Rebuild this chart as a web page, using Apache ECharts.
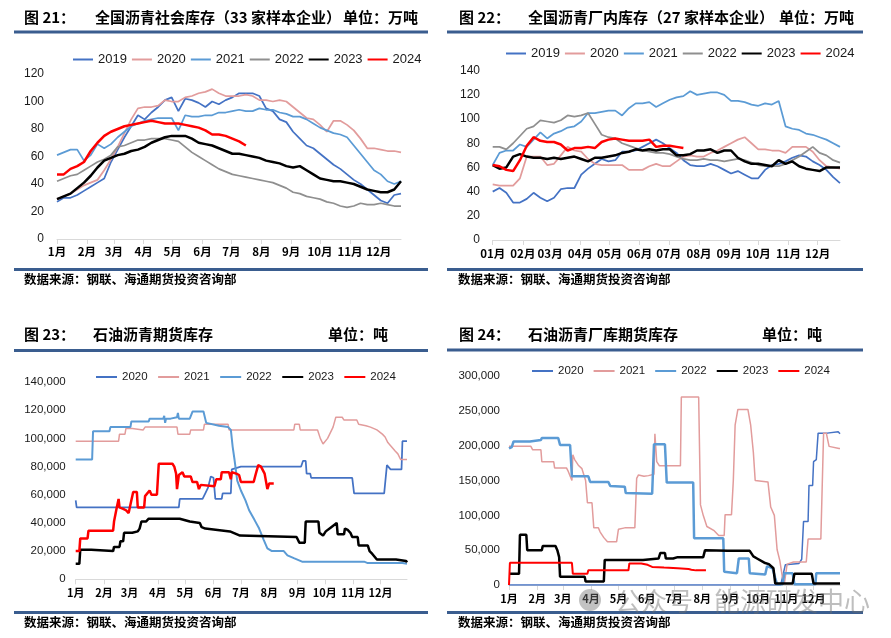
<!DOCTYPE html>
<html><head><meta charset="utf-8">
<script src="https://cdn.jsdelivr.net/npm/echarts@6/dist/echarts.min.js"></script>
<style>
html,body{margin:0;padding:0;background:#fff;width:891px;height:638px;overflow:hidden;}
.c{position:absolute;left:0;top:0;width:891px;height:638px;}
</style></head><body>
<div id="c1" class="c"></div><div id="c2" class="c"></div><div id="c3" class="c"></div><div id="c4" class="c"></div>
<script>
// ---------- shared axis data ----------
const monthStarts = [0,31,59,90,120,151,181,212,243,273,304,334];
const monthLabelsA = ['1月','2月','3月','4月','5月','6月','7月','8月','9月','10月','11月','12月'];
const monthLabelsB = ['01月','02月','03月','04月','05月','06月','07月','08月','09月','10月','11月','12月'];

// ---------- 图21 全国沥青社会库存 (万吨, weekly) ----------
const c21Years = ['2019','2020','2021','2022','2023','2024'];
const c21_2019 = [27,30,30,32,35,38,41,44,56,65,74,82,90,87,92,96,101,103,93,102,101,99,96,100,98,101,103,106,106,106,104,95,93,87,85,78,73,68,66,62,58,54,51,47,43,40,36,32,28,26,32,33];
const c21_2020 = [29,31,33,36,39,41,43,50,58,67,77,87,95,96,96,97,101,100,100,103,104,106,107,109,106,104,104,104,105,104,101,101,100,101,100,96,92,88,87,83,78,86,86,83,79,73,66,66,65,64,64,63];
const c21_2021 = [61,63,65,65,57,61,69,66,69,74,78,82,84,86,87,88,88,88,79,90,89,89,90,90,92,92,93,94,93,93,95,94,94,92,91,89,89,87,84,81,79,77,76,74,68,62,56,50,47,42,40,42];
const c21_2022 = [42,44,46,47,50,53,56,58,61,67,68,70,72,72,73,73,73,72,71,67,63,60,57,54,51,49,47,46,45,44,43,42,41,39,37,34,33,31,30,29,27,26,24,23,24,26,25,25,26,25,24,24];
const c21_2023 = [29,31,33,37,41,46,52,57,59,61,62,64,65,67,70,72,74,75,75,75,73,70,69,68,66,64,62,62,61,60,59,57,56,55,53,52,53,50,47,44,43,42,42,41,40,38,36,35,34,34,36,42];
const c21_2024 = [47,47,51,53,56,64,70,75,78,80,82,83,84,85,86,85,84,84,84,83,82,81,79,76,76,75,73,71,68];

// ---------- 图22 全国沥青厂内库存 (万吨, weekly) ----------
const c22Years = ['2019','2020','2021','2022','2023','2024'];
const c22_2019 = [40,43,39,31,31,34,39,35,32,35,42,43,43,54,59,63,67,65,66,73,73,74,77,80,83,80,76,72,66,62,61,61,63,61,58,55,57,54,51,51,58,62,63,65,68,70,69,65,62,58,52,47];
const c22_2020 = [46,45,45,45,51,69,69,69,62,63,70,77,74,73,67,63,62,62,62,62,58,58,58,61,63,61,61,65,69,70,69,69,72,74,77,80,83,85,80,75,75,74,74,72,77,77,77,73,66,61,60,59];
const c22_2021 = [62,72,74,74,79,77,83,89,84,88,90,93,94,98,105,105,106,107,107,103,109,113,113,114,110,113,116,118,119,123,120,121,122,122,120,115,115,114,112,111,113,112,115,94,92,91,88,87,85,83,80,77];
const c22_2022 = [77,77,75,80,86,92,94,99,98,97,99,103,102,103,105,96,87,85,84,80,78,76,74,73,72,72,71,69,67,66,66,67,66,66,65,66,67,66,64,62,61,61,61,63,66,69,73,77,72,70,66,64];
const c22_2023 = [62,59,60,69,71,69,68,68,67,68,67,68,69,67,65,68,68,69,70,72,73,75,74,75,74,75,75,70,70,71,74,74,75,72,74,74,68,65,63,63,62,61,66,63,65,61,59,58,57,60,60,60];
const c22_2024 = [62,61,58,57,66,78,85,82,81,81,79,74,76,76,77,76,81,83,84,83,82,82,82,83,77,78,78,77,76];

// ---------- 图23 石油沥青期货库存 ([day of year, 千吨]) ----------
const c23Years = ['2020','2021','2022','2023','2024'];
const c23_2020 = [[0,56],[1,51],[113,51],[114,57],[139,57],[142,61],[145,65],[148,73],[151,72],[153,57],[160,57],[161,61],[170,61],[171,78],[181,80],[247,80],[249,84],[252,84],[253,75],[257,75],[258,72],[303,72],[305,61],[338,61],[341,81],[345,78],[357,78],[358,98],[363,98]];
const c23_2021 = [[0,98],[47,98],[48,103],[54,103],[55,107],[62,107],[63,106],[74,106],[76,108],[111,108],[112,103],[125,103],[126,106],[140,106],[141,110],[167,110],[168,106],[239,106],[240,110],[245,110],[246,106],[265,106],[268,100],[271,96],[276,100],[282,108],[285,115],[292,115],[294,113],[308,113],[310,110],[318,109],[323,108],[330,106],[336,103],[339,101],[342,97],[346,94],[350,91],[353,89],[356,85],[363,85]];
const c23_2022 = [[0,85],[18,85],[19,105],[37,105],[38,108],[60,108],[61,112],[80,112],[81,114],[96,114],[97,116],[98,111],[99,114],[104,114],[106,115],[111,115],[112,118],[113,114],[125,114],[128,119],[140,119],[143,111],[157,109],[167,108],[170,106],[172,94],[174,85],[177,70],[181,63],[186,56],[190,49],[196,42],[201,36],[206,28],[210,22],[215,20],[228,20],[232,17],[239,15],[248,12.5],[316,12.5],[320,11.5],[358,11.5],[363,11]];
const c23_2023 = [[0,11],[4,11],[5,21],[17,21],[19,20],[41,20],[42,23],[48,23],[49,27],[52,27],[53,33],[62,33],[64,34],[68,34],[69,33],[70,36],[72,41],[77,41],[80,43],[114,43],[116,42],[125,41],[127,40],[136,40],[138,37],[142,36],[144,35],[169,34],[171,33],[180,31],[182,30],[242,30],[245,26],[251,26],[252,41],[266,41],[267,33],[271,31],[274,34],[280,37],[286,40],[287,32],[294,32],[295,36],[298,35],[301,33],[303,30],[309,30],[310,24],[320,24],[322,20],[325,18],[330,14],[351,14],[353,13],[362,13],[363,12]];
const c23_2024 = [[0,20],[4,20],[5,29],[13,29],[14,34.5],[41,34.5],[42,41],[44,41],[45,51],[47,57],[48,51],[52,50],[55,49],[58,47],[60,53],[63,62],[67,62],[68,51],[75,51],[76,59],[78,60],[81,63],[83,60],[89,60],[91,82],[106,82],[108,80],[110,75],[111,64],[113,74],[117,76],[119,73],[126,73],[128,69],[133,69],[135,64],[137,67],[139,66],[152,66],[154,71],[159,71],[160,76],[168,76],[170,71],[171,76],[176,75],[179,74],[181,69],[195,69],[197,74],[200,81],[203,80],[207,75],[209,74],[210,64],[212,68],[217,68]];

// ---------- 图24 石油沥青厂库期货库存 ([day of year, 千吨]) ----------
const c24Years = ['2020','2021','2022','2023','2024'];
const c24_2020 = [[0,0],[298,0],[303,29],[318,31],[321,37],[323,91],[328,91],[329,143],[333,143],[334,177],[337,180],[339,218],[349,218],[351,220],[361,220],[363,217]];
const c24_2021 = [[0,199],[24,199],[26,194],[35,194],[36,177],[49,177],[50,168],[63,168],[65,163],[69,150],[70,187],[72,180],[76,172],[80,167],[84,150],[86,118],[91,118],[93,82],[98,82],[100,76],[104,68],[108,62],[118,62],[120,80],[127,82],[138,82],[140,153],[142,158],[148,156],[153,157],[159,159],[160,217],[162,177],[165,171],[188,171],[189,270],[208,270],[210,115],[213,100],[217,84],[225,78],[230,71],[236,71],[237,101],[244,101],[246,150],[248,230],[251,252],[262,252],[265,230],[268,190],[270,150],[284,148],[287,112],[291,100],[294,51],[297,35],[300,10],[302,2],[305,30],[312,33],[326,33],[328,66],[342,66],[345,218],[348,218],[351,199],[362,196],[363,196]];
const c24_2022 = [[0,196],[3,198],[5,206],[23,206],[25,208],[35,208],[36,211],[54,211],[56,201],[67,201],[69,156],[87,156],[89,148],[109,148],[111,142],[127,141],[128,132],[157,131],[159,202],[171,202],[173,147],[202,147],[203,67],[235,67],[236,19],[237,17],[250,17],[252,38],[263,38],[264,17],[281,15],[283,27],[289,24],[292,10],[294,1],[300,1],[302,17],[311,17],[313,1],[336,1],[337,17],[363,17]];
const c24_2023 = [[0,16],[11,16],[12,72],[19,72],[20,50],[36,50],[37,56],[51,56],[53,50],[55,40],[56,12],[83,12],[84,5],[104,5],[105,36],[147,36],[149,38],[164,38],[166,46],[171,46],[172,38],[180,38],[185,40],[213,40],[215,50],[240,49],[264,49],[268,41],[272,38],[280,32],[285,30],[290,24],[292,2],[311,2],[313,16],[332,16],[334,2],[363,2]];
const c24_2024 = [[0,0],[1,32],[69,32],[70,16],[86,16],[87,21],[131,21],[132,31],[145,31],[152,29],[157,26],[170,25],[185,24],[197,23],[200,22],[205,21],[216,21]];

// ---------- styling ----------
const CJK = '"Noto Sans CJK SC", sans-serif';
const NUM = '"Liberation Sans", Arial, sans-serif';
const BAR = '#3a5d8f';
const COL = {dblue:'#4472C4', pink:'#E29C9C', lblue:'#5B9BD5', gray:'#8F8F8F', black:'#000000', red:'#FF0000'};

function weekly(arr){ return arr.map((v,i)=>[i*7, v]); }

function frame(p){
  const g = [
    {type:'rect', shape:{x:p.barX, y:p.topY, width:p.barW, height:3}, style:{fill:BAR}, silent:true},
    {type:'rect', shape:{x:p.barX, y:p.botY, width:p.barW, height:3}, style:{fill:BAR}, silent:true},
  ];
  p.titles.forEach(t=>g.push({type:'text', x:t[1], y:p.titleY, style:{text:t[0], font:'bold 15px '+CJK, fill:'#000', align:'left', verticalAlign:'middle'}}));
  g.push({type:'text', x:p.srcX, y:p.srcY, style:{text:'数据来源：钢联、海通期货投资咨询部', font:'bold 12.5px '+CJK, fill:'#000', align:'left', verticalAlign:'middle'}});
  return g;
}

function makeChart(id, p){
  const chart = echarts.init(document.getElementById(id), null, {width:891, height:638});
  const graphic = frame(p).concat(p.extra || []);
  chart.setOption({
    animation:false,
    backgroundColor: p.bg || 'transparent',
    graphic: graphic,
    legend:{left:p.legend.left, top:p.legend.top, padding:0, itemWidth:p.legend.w, itemHeight:14, itemGap:p.legend.gap,
      itemStyle:{opacity:0},
      textStyle:{fontFamily:NUM, fontSize:p.legend.fs, color:'#1a1a1a'}, data:p.names},
    grid:{left:p.grid[0], top:p.grid[1], width:p.grid[2], height:p.grid[3], containLabel:false},
    xAxis:{type:'value', min:0, max:p.xmax,
      axisLine:{show:true, lineStyle:{color:'#d9d9d9', width:1}},
      axisTick:{show:true, customValues:monthStarts, length:5, lineStyle:{color:'#d9d9d9'}},
      axisLabel:{customValues:monthStarts, margin:p.xMargin, fontFamily:CJK, fontWeight:'bold', fontSize:p.xfs, color:'#000',
        formatter:(v)=>{const i=monthStarts.indexOf(v); return i>=0 ? p.months[i] : '';}},
      splitLine:{show:false}},
    yAxis:{type:'value', min:0, max:p.ymax, interval:p.yint,
      axisLine:{show:false}, axisTick:{show:false}, splitLine:{show:false},
      axisLabel:{margin:p.yMargin, fontFamily:NUM, fontSize:p.yfs, color:'#1a1a1a', formatter:p.yfmt}},
    series:p.series.map(s=>({type:'line', name:s.name, data:s.data, symbol:'none', smooth:false,
      lineStyle:{color:s.color, width:s.width}, itemStyle:{color:s.color}, emphasis:{disabled:true}}))
  });
}

// 图21
makeChart('c1', {
  bg:'#ffffff',
  barX:14, barW:414, topY:30.5, botY:268,
  titleY:17, titles:[['图 21：',24],['全国沥青社会库存（33 家样本企业）',95],['单位：万吨',343]],
  srcX:24, srcY:279.5,
  legend:{left:72, top:53, w:20, gap:4, fs:13},
  names:c21Years,
  grid:[57,74,344,165], xmax:357, xMargin:7, xfs:11.5, months:monthLabelsA,
  ymax:120, yint:20, yMargin:13, yfs:12, yfmt:(v)=>String(v),
  series:[
    {name:'2019', data:weekly(c21_2019), color:COL.dblue, width:1.75},
    {name:'2020', data:weekly(c21_2020), color:COL.pink, width:1.75},
    {name:'2021', data:weekly(c21_2021), color:COL.lblue, width:1.75},
    {name:'2022', data:weekly(c21_2022), color:COL.gray, width:1.75},
    {name:'2023', data:weekly(c21_2023), color:COL.black, width:2.5},
    {name:'2024', data:weekly(c21_2024), color:COL.red, width:2.5}
  ]
});

// 图22
makeChart('c2', {
  barX:447, barW:416, topY:30.5, botY:268,
  titleY:17, titles:[['图 22：',459],['全国沥青厂内库存（27 家样本企业）',528],['单位：万吨',779]],
  srcX:458, srcY:279,
  legend:{left:505, top:47, w:20, gap:4, fs:13},
  names:c22Years,
  grid:[492.7,70.7,347.3,169.3], xmax:357, xMargin:8, xfs:11.5, months:monthLabelsB,
  ymax:140, yint:20, yMargin:12.7, yfs:12, yfmt:(v)=>String(v),
  series:[
    {name:'2019', data:weekly(c22_2019), color:COL.dblue, width:1.75},
    {name:'2020', data:weekly(c22_2020), color:COL.pink, width:1.75},
    {name:'2021', data:weekly(c22_2021), color:COL.lblue, width:1.75},
    {name:'2022', data:weekly(c22_2022), color:COL.gray, width:1.75},
    {name:'2023', data:weekly(c22_2023), color:COL.black, width:2.5},
    {name:'2024', data:weekly(c22_2024), color:COL.red, width:2.5}
  ]
});

const thousands = (v)=> (v*1000).toLocaleString('en-US');

// 图23
makeChart('c3', {
  barX:14, barW:414, topY:349, botY:611,
  titleY:334, titles:[['图 23：',24],['石油沥青期货库存',93],['单位：吨',328]],
  srcX:24, srcY:622.7,
  legend:{left:95, top:371, w:21, gap:9.5, fs:11.5},
  names:c23Years,
  grid:[75.7,382,331.3,197.3], xmax:363, xMargin:8, xfs:11, months:monthLabelsA,
  ymax:140, yint:20, yMargin:10, yfs:11.5, yfmt:thousands,
  series:[
    {name:'2020', data:c23_2020, color:COL.dblue, width:1.75},
    {name:'2021', data:c23_2021, color:COL.pink, width:1.5},
    {name:'2022', data:c23_2022, color:COL.lblue, width:2},
    {name:'2023', data:c23_2023, color:COL.black, width:2.5},
    {name:'2024', data:c23_2024, color:COL.red, width:2.5}
  ]
});

// 图24
makeChart('c4', {
  barX:447, barW:416, topY:348.5, botY:611,
  titleY:334, titles:[['图 24：',459],['石油沥青厂库期货库存',528],['单位：吨',762]],
  srcX:458, srcY:622.7,
  legend:{left:531, top:365, w:21, gap:9, fs:11.5},
  names:c24Years,
  grid:[509,376,331,209], xmax:363, xMargin:8, xfs:11, months:monthLabelsA,
  ymax:300, yint:50, yMargin:9, yfs:11.5, yfmt:thousands,
  series:[
    {name:'2020', data:c24_2020, color:COL.dblue, width:1.5},
    {name:'2021', data:c24_2021, color:COL.pink, width:1.5},
    {name:'2022', data:c24_2022, color:COL.lblue, width:2.5},
    {name:'2023', data:c24_2023, color:COL.black, width:2.5},
    {name:'2024', data:c24_2024, color:COL.red, width:2}
  ],
  extra:[
    {type:'circle', shape:{cx:590, cy:600, r:11}, style:{fill:'rgba(120,120,120,0.45)'}, z:100, silent:true},
    {type:'text', x:615, y:601, z:100, style:{text:'公众号', font:'26px '+CJK, fill:'rgba(110,110,110,0.45)', align:'left', verticalAlign:'middle'}},
    {type:'text', x:714, y:601, z:100, style:{text:'能源研发中心', font:'26px '+CJK, fill:'rgba(110,110,110,0.45)', align:'left', verticalAlign:'middle'}}
  ]
});
</script>
</body></html>
